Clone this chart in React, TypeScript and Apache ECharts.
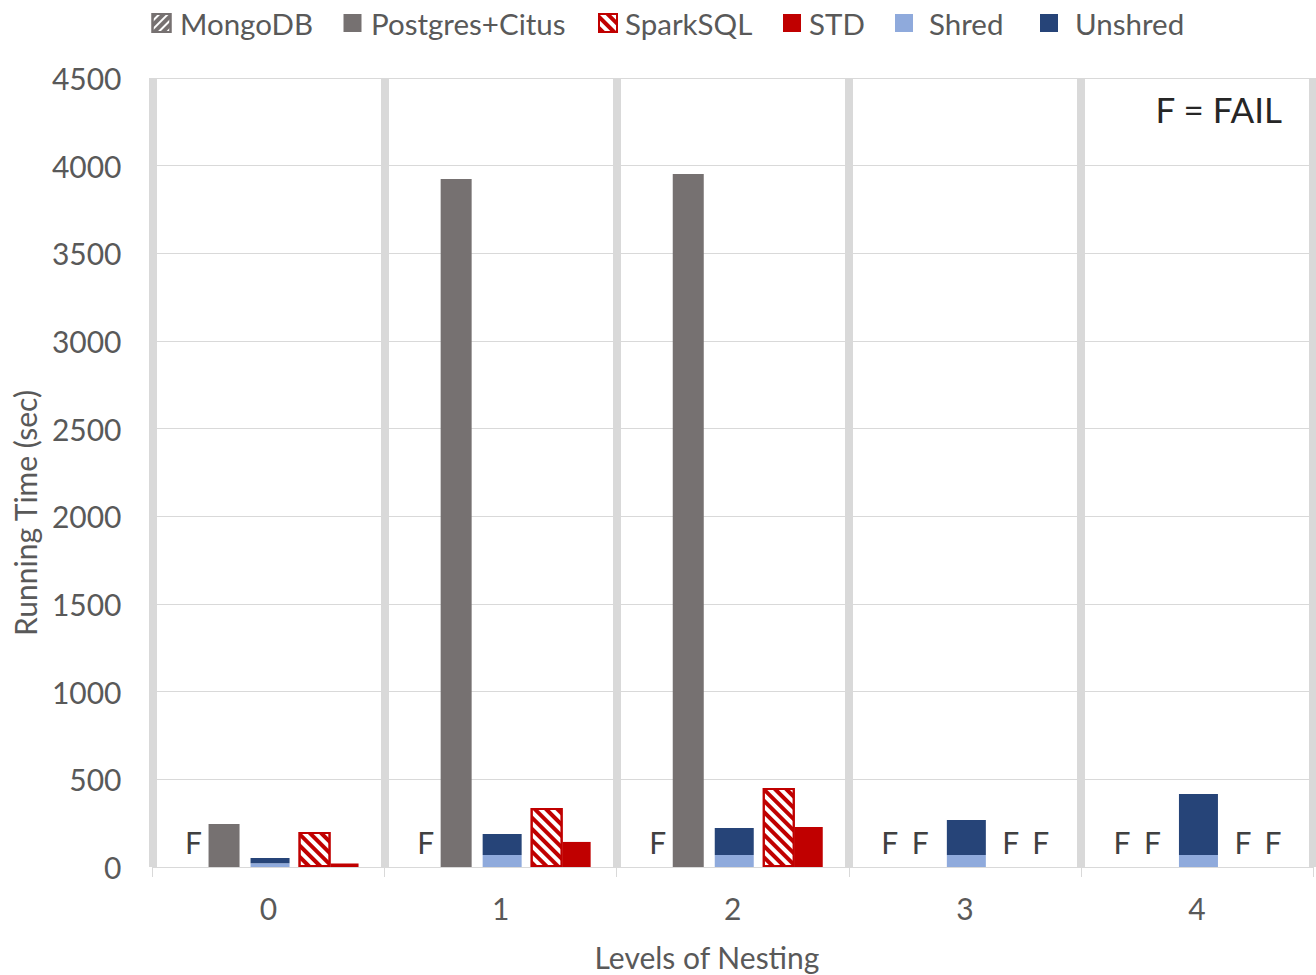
import React, { useEffect, useRef } from "react";
import * as echarts from "echarts";

// ---- Data (null = FAIL) ----
const categories = ["0", "1", "2", "3", "4"];
const mongoDB: (number | null)[] = [null, null, null, null, null];
const postgresCitus: (number | null)[] = [245, 3924, 3952, null, null];
const shred: (number | null)[] = [22, 68, 68, 68, 68];
const unshred: (number | null)[] = [29, 120, 154, 200, 348];
const sparkSQL: (number | null)[] = [200, 336, 450, null, null];
const std: (number | null)[] = [20, 143, 228, null, null];
const yMin = 0;
const yMax = 4500;
const yStep = 500;
const FAIL_MARK = "F";
const FAIL_NOTE = "F = FAIL";
const xTitle = "Levels of Nesting";
const yTitle = "Running Time (sec)";

const FONT = 'Lato, "Noto Sans", sans-serif';
const GRID_COLOR = "#d9d9d9";
const TEXT_COLOR = "#595959";
const DARK_TEXT = "#404040";

function withFails(values: (number | null)[]) {
  return values.map((v) =>
    v == null
      ? {
          value: 0,
          itemStyle: { color: "transparent", borderWidth: 0, decal: "none" },
          label: {
            show: true,
            position: "top",
            distance: 10,
            formatter: FAIL_MARK,
            fontFamily: FONT,
            fontSize: 30,
            color: DARK_TEXT,
          },
        }
      : v
  );
}

const legendItems = [
  { name: "MongoDB", left: 151.5, pad: 4.5 },
  { name: "Postgres+Citus", left: 343.5, pad: 4.5 },
  { name: "SparkSQL", left: 598, pad: 3 },
  { name: "STD", left: 783, pad: 3 },
  { name: "Shred", left: 895, pad: 11 },
  { name: "Unshred", left: 1040, pad: 12 },
];

export default function App() {
  const ref = useRef<HTMLDivElement>(null);
  useEffect(() => {
    if (!ref.current) return;
    const chart = echarts.init(ref.current, null, { renderer: "svg" });
    const base = { type: "bar", barGap: "0%" };
    const option: any = {
      animation: false,
      backgroundColor: "#ffffff",
      textStyle: { fontFamily: FONT },
      grid: { left: 152.5, right: 3, top: 78, bottom: 108, containLabel: false },
      legend: legendItems.map((l) => ({
        data: [l.name],
        left: l.left,
        top: 8,
        padding: 0,
        itemWidth: 18,
        itemHeight: 18,
        icon: "rect",
        selectedMode: false,
        textStyle: {
          fontFamily: FONT,
          fontSize: 29.5,
          color: TEXT_COLOR,
          padding: [0, 0, 0, l.pad],
        },
      })),
      xAxis: {
        type: "category",
        data: categories,
        axisLine: { show: true, lineStyle: { color: GRID_COLOR, width: 1 } },
        axisTick: { show: true, length: 10, lineStyle: { color: GRID_COLOR, width: 1 } },
        axisLabel: { fontFamily: FONT, fontSize: 30, color: TEXT_COLOR, margin: 26 },
        splitLine: { show: true, lineStyle: { color: GRID_COLOR, width: 8 } },
      },
      yAxis: {
        type: "value",
        min: yMin,
        max: yMax,
        interval: yStep,
        axisLine: { show: false },
        axisTick: { show: false },
        axisLabel: {
          fontFamily: FONT,
          fontSize: 30,
          color: TEXT_COLOR,
          margin: 31,
          formatter: (v: number) => String(v),
        },
        splitLine: { show: true, lineStyle: { color: GRID_COLOR, width: 1 } },
      },
      series: [
        {
          ...base,
          name: "MongoDB",
          barWidth: 30,
          data: withFails(mongoDB),
          itemStyle: {
            color: "#ffffff",
            borderColor: "#767171",
            borderWidth: 1.5,
            decal: {
              color: "#767171",
              backgroundColor: "#ffffff",
              dashArrayX: [1, 0],
              dashArrayY: [4, 2],
              rotation: -Math.PI / 4,
            },
          },
        },
        {
          ...base,
          name: "Postgres+Citus",
          barWidth: 31,
          data: withFails(postgresCitus),
          itemStyle: { color: "#767171" },
        },
        {
          ...base,
          name: "gapA",
          barWidth: 11,
          silent: true,
          data: categories.map(() => "-"),
        },
        {
          ...base,
          name: "Shred",
          stack: "shredStack",
          barWidth: 39,
          data: withFails(shred),
          itemStyle: { color: "#8faadc" },
        },
        {
          ...base,
          name: "Unshred",
          stack: "shredStack",
          barWidth: 39,
          data: withFails(unshred),
          itemStyle: { color: "#264478" },
        },
        {
          ...base,
          name: "gapB",
          barWidth: 9,
          silent: true,
          data: categories.map(() => "-"),
        },
        {
          ...base,
          name: "SparkSQL",
          barWidth: 32,
          data: withFails(sparkSQL),
          itemStyle: {
            color: "#ffffff",
            borderColor: "#c00000",
            borderWidth: 2,
            decal: {
              color: "#c00000",
              backgroundColor: "#ffffff",
              dashArrayX: [1, 0],
              dashArrayY: [3.5, 3.5],
              rotation: Math.PI / 4,
            },
          },
        },
        {
          ...base,
          name: "STD",
          barWidth: 28,
          data: withFails(std),
          itemStyle: { color: "#c00000" },
        },
      ],
      graphic: [
        {
          type: "text",
          x: 25,
          y: 513,
          rotation: Math.PI / 2,
          style: {
            text: yTitle,
            fontFamily: FONT,
            fontSize: 30,
            fill: TEXT_COLOR,
            align: "center",
            verticalAlign: "middle",
          },
        },
        {
          type: "text",
          x: 707,
          y: 957,
          style: {
            text: xTitle,
            fontFamily: FONT,
            fontSize: 30,
            fill: TEXT_COLOR,
            align: "center",
            verticalAlign: "middle",
          },
        },
        {
          type: "text",
          x: 1282,
          y: 109,
          style: {
            text: FAIL_NOTE,
            fontFamily: FONT,
            fontSize: 35,
            fill: "#262626",
            align: "right",
            verticalAlign: "middle",
          },
        },
      ],
    };
    chart.setOption(option);
    return () => chart.dispose();
  }, []);
  return (
    <div
      ref={ref}
      style={{ position: "absolute", left: 0, top: 0, width: 1316, height: 975 }}
    />
  );
}
